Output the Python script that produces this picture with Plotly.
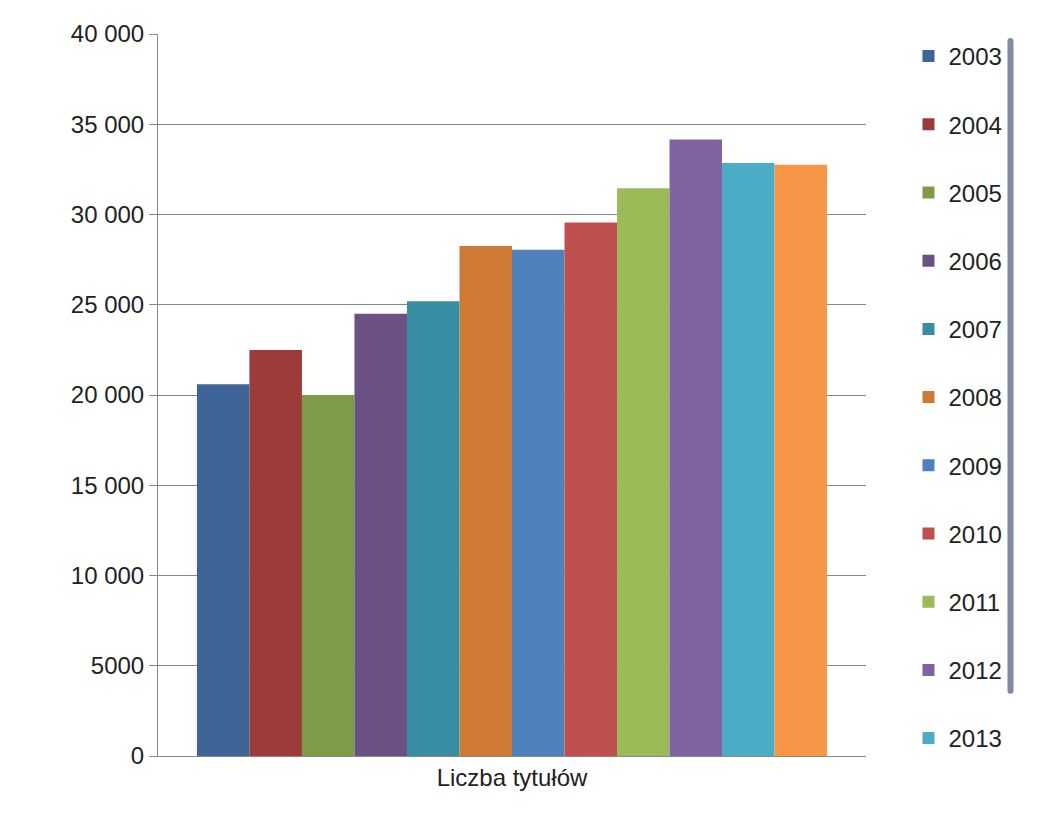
import plotly.graph_objects as go

years = ["2003","2004","2005","2006","2007","2008","2009","2010","2011","2012","2013","2014"]
values = [20600, 22500, 20000, 24500, 25200, 28250, 28050, 29550, 31450, 34150, 32850, 32750]
colors = ["#3F6598","#9C3B3A","#7E9B48","#6A5085","#378DA1","#CE7A34",
          "#4F81BD","#C0504D","#9BBB59","#8064A2","#4BACC6","#F79646"]
category = ["Liczba tytułów"]

fig = go.Figure()
for y, v, c in zip(years, values, colors):
    fig.add_trace(go.Bar(x=category, y=[v], name=y, marker=dict(color=c, line=dict(width=0)),
                         legendgroup=y))

fig.update_layout(
    width=1049, height=836, plot_bgcolor="white", paper_bgcolor="white",
    margin=dict(l=150, r=191, t=22, b=88),
    barmode="group", bargap=0.11, bargroupgap=0,
    font=dict(family="Liberation Sans, Arial", size=24, color="#222"),
    legend=dict(x=1.06, y=1.0, yanchor="top", tracegroupgap=34,
                font=dict(family="Liberation Sans Narrow, Liberation Sans", size=24)),
    yaxis=dict(range=[0, 40000], tickvals=list(range(0, 40001, 5000)),
               ticktext=["0","5000","10 000","15 000","20 000","25 000","30 000","35 000","40 000"],
               showgrid=True, gridcolor="#888", gridwidth=1.2,
               showline=True, linecolor="#888", ticks="outside", tickcolor="#888",
               ticklen=8, zeroline=False),
    xaxis=dict(showline=True, linecolor="#888", ticks="", showgrid=False),
)
fig.write_html("out.html")
